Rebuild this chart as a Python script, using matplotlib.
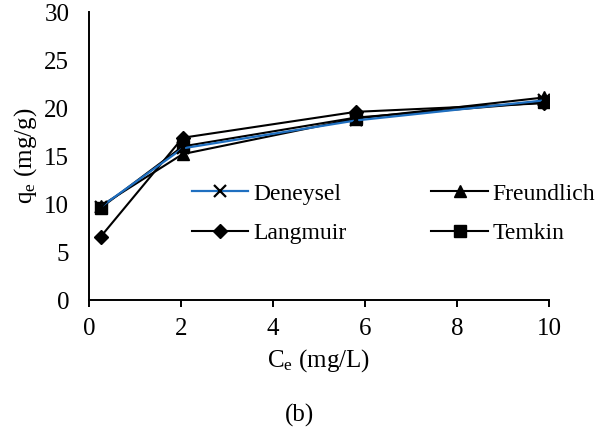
import matplotlib
matplotlib.use("Agg")
import matplotlib.pyplot as plt

plt.rcParams["font.family"] = ["Liberation Serif", "DejaVu Serif"]
plt.rcParams["mathtext.fontset"] = "custom"
plt.rcParams["mathtext.rm"] = "Liberation Serif"
plt.rcParams["mathtext.it"] = "Liberation Serif:italic"

# Equilibrium concentration (mg/L)
ce = [0.26, 2.04, 5.8, 9.9]

# q_e for each isotherm model (mg/g)
deneysel = [9.7, 15.8, 18.7, 20.8]
freundlich = [9.8, 15.2, 18.9, 21.1]
langmuir = [6.6, 16.9, 19.6, 20.5]
temkin = [9.6, 16.0, 19.0, 20.6]

fig = plt.figure(figsize=(6.0, 4.37), dpi=100)
ax = fig.add_axes([0.148, 0.3135, 0.767, 0.659])

h_d, = ax.plot(ce, deneysel, color="#1f6fc0", lw=1.6, marker="x", ms=9,
               mec="black", mew=1.6, label="Deneysel", zorder=3)
h_f, = ax.plot(ce, freundlich, color="black", lw=1.5, marker="^", ms=9,
               label="Freundlich")
h_l, = ax.plot(ce, langmuir, color="black", lw=1.5, marker="D", ms=7.5,
               label="Langmuir")
h_t, = ax.plot(ce, temkin, color="black", lw=1.5, marker="s", ms=9,
               label="Temkin")

ax.set_xlim(0, 10)
ax.set_ylim(0, 30)
ax.set_xticks(range(0, 11, 2))
ax.set_yticks(range(0, 31, 5))
ax.spines["top"].set_visible(False)
ax.spines["right"].set_visible(False)
ax.spines["left"].set_linewidth(1.4)
ax.spines["bottom"].set_linewidth(1.4)
ax.tick_params(axis="x", direction="out", length=5, width=1.4,
               labelsize=18, pad=8)
ax.tick_params(axis="y", length=0, labelsize=18, pad=14)

ax.set_xlabel(r"C$_\mathrm{e}$ (mg/L)", fontsize=18, labelpad=5)
ax.set_ylabel(r"q$_\mathrm{e}$ (mg/g)", fontsize=18, labelpad=4)

# column-major order so rows read Deneysel/Freundlich, Langmuir/Temkin
ax.legend(handles=[h_d, h_l, h_f, h_t], loc="center",
          bbox_to_anchor=(0.662, 0.3), ncol=2, frameon=False,
          fontsize=17, handlelength=2.4, columnspacing=3.6,
          handletextpad=0.2, labelspacing=0.75, borderpad=0)

fig.text(0.5, 0.05, "(b)", ha="center", va="center", fontsize=18)

fig.savefig("out.png", dpi=100, facecolor="white")
